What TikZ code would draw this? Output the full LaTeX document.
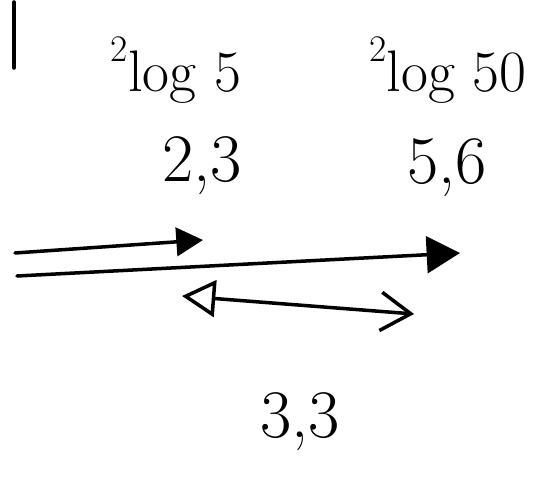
\documentclass[tikz,border=0pt]{standalone}
\usepackage{fontspec}
\usetikzlibrary{arrows.meta, positioning}

\tikzset{
  pen/.style={line width=3pt, line cap=round},
  val/.style={font=\fontsize{58}{64}\selectfont},
  lg/.style={font=\fontsize{50}{56}\selectfont}
}
\newcommand{\baselog}[1]{\raisebox{0.5em}{\fontsize{32}{36}\selectfont 2}log #1}

\begin{document}
\begin{tikzpicture}[x=0.03cm, y=-0.03cm, >=Latex]
  \useasboundingbox (0,0) rectangle (548,477);
  % labels
  \node[lg] (lga) at (176,70) {\baselog{5}};
  \node[lg] (lgb) at (448,70) {\baselog{50}};
  \node[val] (va) at (202,166) {2,3};
  \node[val] (vb) at (447,168) {5,6};
  \node[val] (vd) at (300,422) {3,3};

  % stroke at the top left
  \coordinate (tk1) at (14,2);
  \coordinate (tk2) at (14,68);
  \draw[pen] (tk1) -- (tk2);

  % arrows
  \coordinate (a1s) at (15,253);
  \coordinate (a1e) at (203,240);
  \coordinate (a2s) at (17,276);
  \coordinate (a2e) at (460,253);
  \coordinate (b1) at (182,296);
  \coordinate (b2) at (414,314);
  \draw[pen, -{Triangle[length=0.8cm, width=0.85cm]}] (a1s) -- (a1e);
  \draw[pen, -{Triangle[length=1cm, width=1.1cm]}] (a2s) -- (a2e);
  \draw[pen, {Triangle[open, length=1cm, width=1.1cm]}-{Straight Barb[length=0.9cm, width=1.15cm]}] (b1) -- (b2);
\end{tikzpicture}
\end{document}
